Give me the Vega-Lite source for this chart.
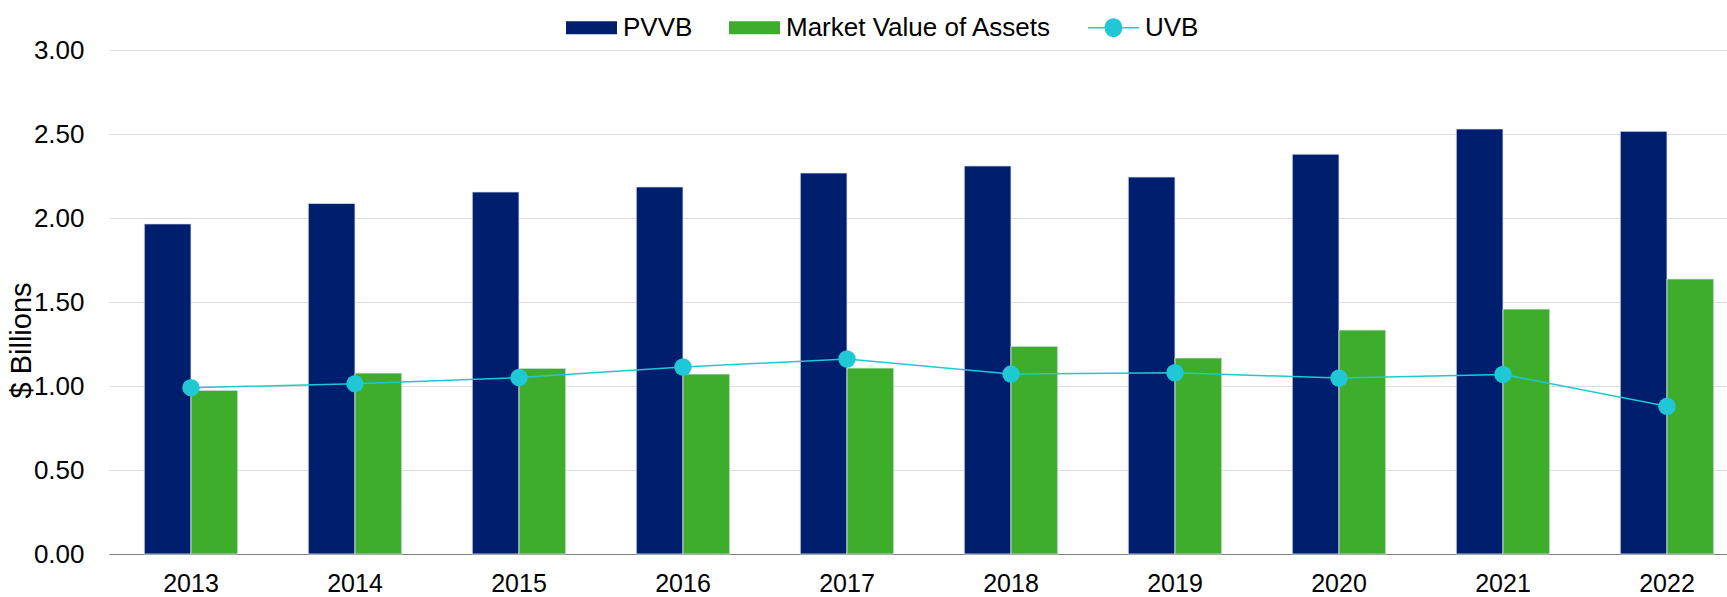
{
  "$schema": "https://vega.github.io/schema/vega-lite/v6.json",
  "autosize": "none",
  "padding": {"left": 109, "top": 50, "right": 0, "bottom": 43},
  "width": 1618,
  "height": 504,
  "background": "white",
  "config": {
    "view": {"stroke": null},
    "font": "Liberation Sans"
  },
  "data": {
    "values": [
      {"year": "2013", "series": "PVVB", "value": 1.965},
      {"year": "2013", "series": "Market Value of Assets", "value": 0.974},
      {"year": "2013", "series": "UVB", "value": 0.990},
      {"year": "2014", "series": "PVVB", "value": 2.087},
      {"year": "2014", "series": "Market Value of Assets", "value": 1.077},
      {"year": "2014", "series": "UVB", "value": 1.014},
      {"year": "2015", "series": "PVVB", "value": 2.155},
      {"year": "2015", "series": "Market Value of Assets", "value": 1.105},
      {"year": "2015", "series": "UVB", "value": 1.050},
      {"year": "2016", "series": "PVVB", "value": 2.185},
      {"year": "2016", "series": "Market Value of Assets", "value": 1.071},
      {"year": "2016", "series": "UVB", "value": 1.113},
      {"year": "2017", "series": "PVVB", "value": 2.268},
      {"year": "2017", "series": "Market Value of Assets", "value": 1.107},
      {"year": "2017", "series": "UVB", "value": 1.161},
      {"year": "2018", "series": "PVVB", "value": 2.310},
      {"year": "2018", "series": "Market Value of Assets", "value": 1.236},
      {"year": "2018", "series": "UVB", "value": 1.071},
      {"year": "2019", "series": "PVVB", "value": 2.244},
      {"year": "2019", "series": "Market Value of Assets", "value": 1.167},
      {"year": "2019", "series": "UVB", "value": 1.079},
      {"year": "2020", "series": "PVVB", "value": 2.380},
      {"year": "2020", "series": "Market Value of Assets", "value": 1.333},
      {"year": "2020", "series": "UVB", "value": 1.047},
      {"year": "2021", "series": "PVVB", "value": 2.530},
      {"year": "2021", "series": "Market Value of Assets", "value": 1.458},
      {"year": "2021", "series": "UVB", "value": 1.069},
      {"year": "2022", "series": "PVVB", "value": 2.516},
      {"year": "2022", "series": "Market Value of Assets", "value": 1.637},
      {"year": "2022", "series": "UVB", "value": 0.879}
    ]
  },
  "encoding": {
    "x": {
      "field": "year",
      "type": "nominal",
      "scale": {"range": [0, 1640], "paddingInner": 0.43, "paddingOuter": 0.215},
      "axis": {
        "title": null,
        "labelAngle": 0,
        "labelFontSize": 25,
        "labelColor": "#000000",
        "labelBaseline": "middle",
        "labelPadding": 29,
        "ticks": false,
        "domainColor": "#808080",
        "domainWidth": 1.2,
        "grid": false
      }
    },
    "y": {
      "field": "value",
      "type": "quantitative",
      "scale": {"domain": [0, 3], "nice": false},
      "axis": {
        "title": "$ Billions",
        "titleFontSize": 29,
        "titleFontWeight": "normal",
        "titleColor": "#000000",
        "titleX": -88,
        "titleY": 290,
        "titleAngle": 270,
        "titleAlign": "center",
        "titleBaseline": "middle",
        "values": [0, 0.5, 1, 1.5, 2, 2.5, 3],
        "format": ".2f",
        "labelFontSize": 26,
        "labelColor": "#000000",
        "labelPadding": 25,
        "ticks": false,
        "domain": false,
        "gridColor": "#dddddd",
        "gridWidth": 1.2
      }
    },
    "color": {
      "field": "series",
      "type": "nominal",
      "scale": {
        "domain": ["PVVB", "Market Value of Assets", "UVB"],
        "range": ["#001E6E", "#3EAD2C", "#1FC8D4"]
      },
      "legend": {
        "title": null,
        "orient": "none",
        "legendX": 457,
        "legendY": -48,
        "direction": "horizontal",
        "labelFontSize": 26,
        "labelColor": "#000000",
        "labelLimit": 500,
        "labelOffset": 6,
        "columnPadding": 36,
        "symbolSize": 2601,
        "symbolType": "M-1,-0.255H1V0.255H-1Z",
        "symbolStrokeWidth": 0,
        "symbolOpacity": 1,
        "padding": 0,
        "encode": {
          "symbols": {
            "update": {
              "shape": {"signal": "datum.value === 'UVB' ? 'M-1,-0.03H-0.34A0.34,0.34,0,0,1,0.34,-0.03H1V0.03H0.34A0.34,0.34,0,0,1,-0.34,0.03H-1Z' : 'M-1,-0.255H1V0.255H-1Z'"},
              "fill": {"scale": "color", "field": "value"},
              "strokeWidth": {"value": 0},
              "opacity": {"value": 1}
            }
          }
        }
      }
    }
  },
  "layer": [
    {
      "transform": [{"filter": "datum.series !== 'UVB'"}],
      "mark": {"type": "bar", "stroke": "#dfe6f0", "strokeWidth": 0.8},
      "encoding": {
        "xOffset": {"field": "series", "type": "nominal", "scale": {"domain": ["PVVB", "Market Value of Assets"]}}
      }
    },
    {
      "transform": [{"filter": "datum.series === 'UVB'"}],
      "mark": {"type": "line", "strokeWidth": 1.5},
      "encoding": {}
    },
    {
      "transform": [{"filter": "datum.series === 'UVB'"}],
      "mark": {"type": "circle", "size": 305, "opacity": 1},
      "encoding": {}
    }
  ]
}
